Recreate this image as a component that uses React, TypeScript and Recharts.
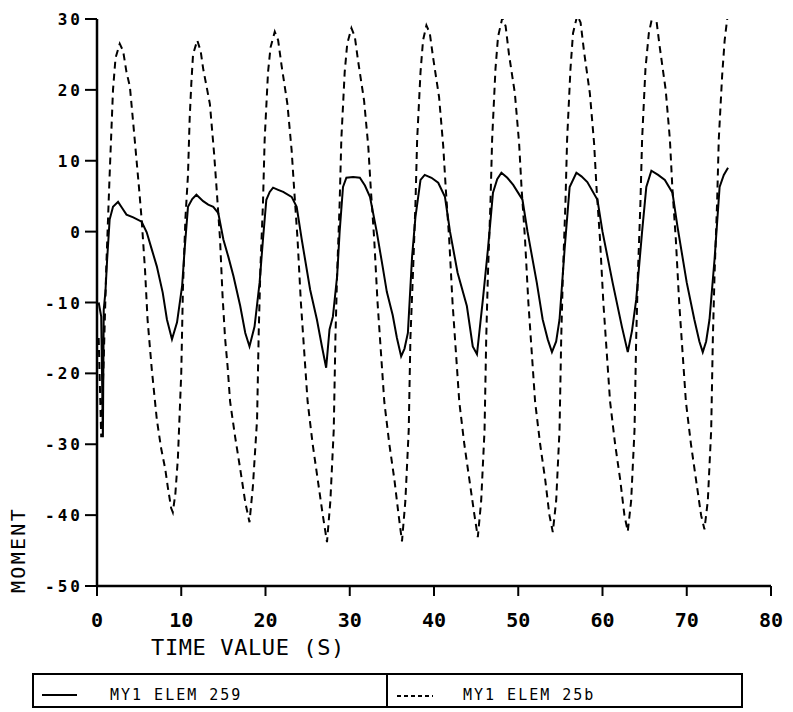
import { LineChart, Line, XAxis, YAxis, Legend } from 'recharts';

// time axis (s) and moment axis ticks
const xTicks = [0, 10, 20, 30, 40, 50, 60, 70, 80];
const yTicks = [-50, -40, -30, -20, -10, 0, 10, 20, 30];
const seriesNames = ['MY1  ELEM 259', 'MY1  ELEM 25b'];

// MY1 ELEM 259 (solid) — [time, moment]
const solidPoints: [number, number][] = [
  [0.2, -10], [0.5, -12], [0.7, -29], [0.8, -11], [1.0, -8.5], [1.2, -4], [1.5, 1.7], [1.9, 3.5],
  [2.5, 4.2], [3.0, 3.3], [3.5, 2.4], [4.3, 2.0], [5.3, 1.4], [5.9, -0.1], [6.5, -2.5], [7.1, -4.9],
  [7.8, -8.6], [8.3, -12.4], [8.9, -15.2],
  [9.5, -12.8], [10.1, -7.7], [10.4, -2.5], [10.8, 3.5], [11.3, 4.6], [11.8, 5.2], [12.6, 4.3],
  [13.2, 3.8], [13.8, 3.5], [14.4, 2.6], [15.0, -1.1], [15.6, -3.6], [16.2, -6.3], [17.0, -10.5],
  [17.6, -14.3], [18.1, -16.2],
  [18.7, -13.4], [19.3, -7.2], [19.7, -1.1], [20.1, 4.5], [20.5, 5.6], [20.9, 6.2], [21.5, 5.9],
  [22.1, 5.6], [23.1, 4.9], [23.7, 3.5], [24.3, -1.1], [25.3, -8.2], [26.1, -12.4], [26.7, -16.2],
  [27.2, -19.2],
  [27.6, -13.8], [28.0, -12], [28.5, -6.3], [28.8, 0], [29.2, 6.3], [29.6, 7.6], [30.4, 7.7],
  [31.2, 7.6], [31.8, 6.5], [32.4, 4.9], [33.2, 0], [33.9, -4.9], [34.4, -8.5], [35.1, -11.8],
  [35.6, -15], [36.1, -17.6],
  [36.5, -16.5], [36.9, -14.3], [37.4, -3.5], [37.8, 2.1], [38.4, 7.3], [38.9, 8.0], [39.7, 7.6],
  [40.5, 6.9], [41.3, 4.9], [41.9, 0], [42.8, -5.8], [43.9, -10.5], [44.6, -16.2], [45.1, -17.3],
  [45.8, -9.6], [46.4, -2.5], [47.0, 5.5], [47.5, 7.4], [48.0, 8.3], [48.7, 7.6], [49.4, 6.6],
  [50.5, 4.5], [51.1, 0], [52.2, -7.2], [52.9, -12.4], [53.5, -15.2], [54.0, -17.0],
  [54.5, -15.5], [54.9, -12.4], [55.5, -2.5], [56.1, 6.3], [56.9, 8.3], [57.5, 7.8], [58.2, 7.0],
  [59.4, 4.5], [60.0, 0], [61.2, -7.2], [62.3, -13.4], [63.0, -17],
  [63.5, -14], [64.0, -9.6], [64.7, 0], [65.2, 6.3], [65.8, 8.6], [66.6, 8.0], [67.4, 7.3],
  [68.3, 5.5], [68.9, 0.7], [70.0, -7.2], [70.9, -12.4], [71.5, -15.5], [71.9, -17],
  [72.3, -15.5], [72.7, -12.4], [73.3, -3.9], [73.9, 6.3], [74.4, 8.0], [74.9, 9.0],
];

// MY1 ELEM 25b (dashed)
const dashedPoints: [number, number][] = [
  [0.2, -15], [0.5, -29], [0.8, -18], [1.1, -5], [1.5, 8], [1.9, 20], [2.2, 24.5], [2.7, 26.5],
  [3.1, 25.5], [3.5, 22.5], [3.9, 20.5], [4.4, 14], [4.7, 10], [5.0, 6], [5.3, 1.7], [5.7, -5.4],
  [6.0, -12.4], [6.5, -19.4], [7.1, -26.5], [7.6, -30.5], [8.1, -33.5], [8.4, -36], [8.8, -39],
  [9.0, -39.6],
  [9.3, -37], [9.6, -32], [10.0, -20], [10.2, -8], [10.5, 2], [10.8, 8], [11.0, 16], [11.2, 21],
  [11.4, 25], [11.9, 27.0], [12.3, 25.5], [12.6, 23], [13.4, 18], [13.9, 11], [14.2, 6], [14.6, -1],
  [14.9, -9], [15.2, -15], [15.5, -19], [15.8, -24], [16.4, -29], [17.0, -33.5], [17.6, -38.2],
  [18.1, -41.0],
  [18.5, -36], [19.0, -26.5], [19.2, -14], [19.4, -5], [19.7, 4], [19.9, 13], [20.3, 22.5],
  [20.6, 26], [21.1, 28.2], [21.5, 27], [21.9, 23.5], [22.6, 18], [23.1, 11.5], [23.4, 6],
  [23.8, -1], [24.2, -10], [24.6, -17], [25.0, -24], [25.6, -30], [26.2, -35], [26.8, -40],
  [27.3, -43.8],
  [27.7, -38], [28.1, -28], [28.3, -15], [28.5, -6], [28.8, 4], [29.0, 13], [29.4, 22.5],
  [29.7, 26.5], [30.2, 28.7], [30.6, 27.5], [31.0, 24], [31.7, 18.5], [32.2, 12], [32.5, 6],
  [32.9, -1], [33.3, -10], [33.7, -17], [34.1, -24], [34.7, -30], [35.3, -35], [35.8, -40],
  [36.2, -43.7],
  [36.6, -38], [37.0, -28], [37.2, -15], [37.5, -6], [37.8, 4], [38.0, 13], [38.4, 22.5],
  [38.7, 27], [39.1, 29.1], [39.5, 28], [39.9, 24.5], [40.6, 19], [41.1, 12], [41.4, 6],
  [41.8, -1], [42.2, -10], [42.6, -17], [43.0, -24], [43.6, -30], [44.2, -35], [44.8, -40],
  [45.2, -43.1],
  [45.6, -38], [46.0, -28], [46.2, -15], [46.4, -6], [46.7, 4], [46.9, 13], [47.3, 23],
  [47.6, 27.5], [48.1, 30.1], [48.5, 29], [48.9, 25], [49.6, 19.5], [50.1, 12.5], [50.4, 6],
  [50.8, -1], [51.2, -10], [51.6, -17], [52.0, -24], [52.6, -30], [53.2, -35], [53.7, -40],
  [54.1, -42.4],
  [54.5, -38], [54.9, -28], [55.1, -15], [55.3, -6], [55.6, 4], [55.8, 13], [56.2, 23],
  [56.5, 28], [57.0, 30.5], [57.4, 29.5], [57.8, 25.5], [58.5, 19.5], [59.0, 12.5], [59.3, 6],
  [59.7, -1], [60.1, -10], [60.5, -17], [60.9, -24], [61.5, -30], [62.1, -35], [62.6, -40],
  [63.0, -42.3],
  [63.4, -38], [63.8, -28], [64.0, -15], [64.2, -6], [64.5, 4], [64.7, 13], [65.1, 23],
  [65.5, 28], [66.0, 30.8], [66.4, 29.8], [66.8, 26], [67.5, 20], [68.0, 13], [68.3, 6],
  [68.7, -1], [69.1, -10], [69.5, -17], [69.9, -24], [70.5, -30], [71.1, -35], [71.7, -40],
  [72.1, -42.0],
  [72.5, -38], [72.9, -28], [73.1, -15], [73.3, -6], [73.6, 4], [73.8, 13], [74.2, 22],
  [74.5, 27], [74.9, 31],
];

const toRows = (pts: [number, number][]) => pts.map(([t, v]) => ({ t, v }));
const solidData = toRows(solidPoints);
const dashedData = toRows(dashedPoints);

const MONO = '"DejaVu Sans Mono", monospace';

const XTick = ({ x, y, payload }: any) => (
  <text x={x} y={y + 29} textAnchor="middle" fontFamily={MONO} fontSize={20} fontWeight="bold" fill="#000">
    {payload.value}
  </text>
);

const YTick = ({ x, y, payload }: any) => (
  <text x={x} y={y + 6} textAnchor="end" fontFamily={MONO} fontSize={16} fontWeight="bold" letterSpacing={3} fill="#000">
    {payload.value}
  </text>
);

const XTitle = ({ viewBox }: any) => (
  <text x={viewBox.x + 151} y={viewBox.y + 69} textAnchor="middle" fontFamily={MONO} fontSize={22} letterSpacing={0.6} fill="#000">
    TIME VALUE (S)
  </text>
);

const YTitle = ({ viewBox }: any) => (
  <text
    x={25}
    y={viewBox.y + 531}
    transform={`rotate(-90, 25, ${viewBox.y + 531})`}
    textAnchor="middle"
    fontFamily={MONO}
    fontSize={20}
    letterSpacing={2.3}
    fill="#000"
  >
    MOMENT
  </text>
);

const LegendBox = () => (
  <svg width={712} height={36} style={{ display: 'block', overflow: 'visible' }}>
    <rect x={1} y={1} width={709} height={33} fill="none" stroke="#000" strokeWidth={2} />
    <line x1={355} y1={1} x2={355} y2={34} stroke="#000" strokeWidth={2} />
    <line x1={10} y1={22} x2={45} y2={22} stroke="#000" strokeWidth={2} />
    <text x={78} y={27} fontFamily={MONO} fontSize={15} letterSpacing={2} fill="#000">
      {seriesNames[0]}
    </text>
    <line x1={365} y1={23} x2={401} y2={23} stroke="#000" strokeWidth={2} strokeDasharray="4 3" />
    <text x={431} y={27} fontFamily={MONO} fontSize={15} letterSpacing={2} fill="#000">
      {seriesNames[1]}
    </text>
  </svg>
);

export default function App() {
  return (
    <div style={{ position: 'absolute', left: 0, top: 0, width: 793, height: 712, background: '#fff' }}>
      <LineChart width={793} height={712} margin={{ top: 19, right: 22, bottom: 96, left: 0 }}>
        <XAxis
          dataKey="t"
          type="number"
          domain={[0, 80]}
          ticks={xTicks}
          tickSize={10}
          height={30}
          stroke="#000"
          strokeWidth={2.5}
          tickLine={{ stroke: '#000', strokeWidth: 2 }}
          tick={<XTick />}
          label={<XTitle />}
        />
        <YAxis
          type="number"
          domain={[-50, 30]}
          ticks={yTicks}
          tickSize={12}
          width={97}
          stroke="#000"
          strokeWidth={2.5}
          tickLine={{ stroke: '#000', strokeWidth: 2 }}
          tick={<YTick />}
          label={<YTitle />}
          allowDataOverflow
        />
        <Legend
          layout="horizontal"
          verticalAlign="middle"
          align="center"
          content={() => <LegendBox />}
          wrapperStyle={{ left: 32, top: 673, width: 712, height: 36 }}
        />
        <Line
          data={dashedData}
          dataKey="v"
          name={seriesNames[1]}
          type="linear"
          stroke="#000"
          strokeWidth={2}
          strokeDasharray="7 5"
          dot={false}
          isAnimationActive={false}
        />
        <Line
          data={solidData}
          dataKey="v"
          name={seriesNames[0]}
          type="linear"
          stroke="#000"
          strokeWidth={2}
          dot={false}
          isAnimationActive={false}
        />
      </LineChart>
    </div>
  );
}
